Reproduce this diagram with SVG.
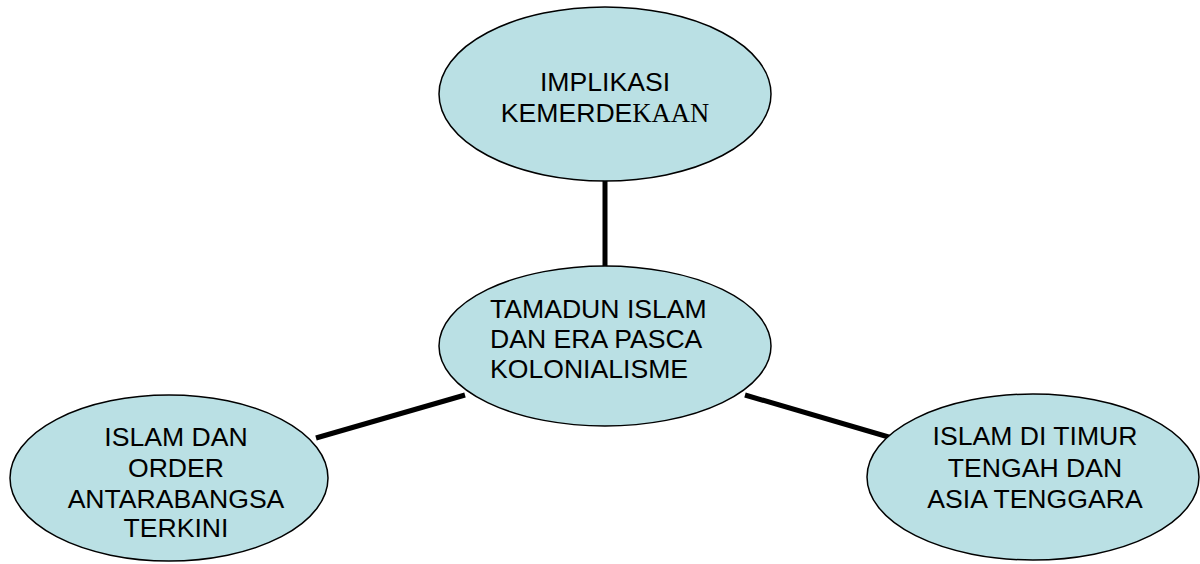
<svg xmlns="http://www.w3.org/2000/svg" width="1200" height="564" viewBox="0 0 1200 564">
<style>
.node ellipse{fill:#bae0e4;stroke:#000;stroke-width:1.5}
.node text{font-family:"Liberation Sans",Arial,sans-serif;font-size:26.6px;fill:#000}
.serif{font-family:"Liberation Serif","Times New Roman",serif}
.conn line{stroke:#000;stroke-width:5}
</style>
<rect width="1200" height="564" fill="#fff"/>
<g id="connectors" class="conn">
<line x1="605" y1="178" x2="605" y2="268"/>
<line x1="316" y1="438" x2="465" y2="395"/>
<line x1="745" y1="395" x2="892" y2="438"/>
</g>
<g id="node-top" class="node">
<ellipse cx="605" cy="94" rx="166" ry="87"/>
<text x="605" text-anchor="middle"><tspan x="605" y="91">IMPLIKASI</tspan><tspan x="605" y="122">KEMERDE<tspan class="serif">KAAN</tspan></tspan></text>
</g>
<g id="node-center" class="node">
<ellipse cx="605" cy="346" rx="166" ry="80"/>
<text><tspan x="490" y="318">TAMADUN ISLAM</tspan><tspan x="490" y="348">DAN ERA PASCA</tspan><tspan x="490" y="378">KOLONIALISME</tspan></text>
</g>
<g id="node-left" class="node">
<ellipse cx="169" cy="478" rx="159" ry="83"/>
<text text-anchor="middle"><tspan x="176" y="446">ISLAM DAN</tspan><tspan x="176" y="477">ORDER</tspan><tspan x="176" y="508">ANTARABANGSA</tspan><tspan x="176" y="537">TERKINI</tspan></text>
</g>
<g id="node-right" class="node">
<ellipse cx="1033" cy="477" rx="166" ry="83"/>
<text text-anchor="middle"><tspan x="1035" y="445">ISLAM DI TIMUR</tspan><tspan x="1035" y="477">TENGAH DAN</tspan><tspan x="1035" y="508">ASIA TENGGARA</tspan></text>
</g>
</svg>
